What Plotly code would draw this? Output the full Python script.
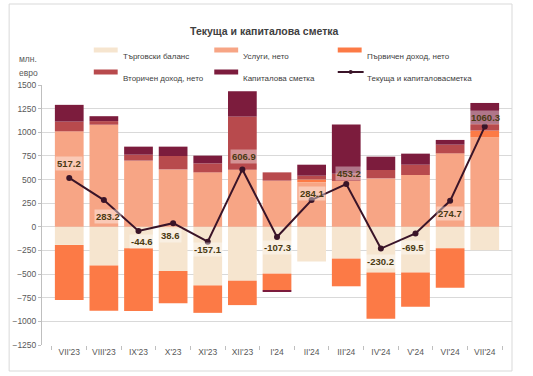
import plotly.graph_objects as go

categories = ["VII'23", "VIII'23", "IX'23", "X'23", "XI'23", "XII'23", "I'24",
              "II'24", "III'24", "IV'24", "V'24", "VI'24", "VII'24"]
trade = [-191, -410, -226, -466, -620, -570, -495, -368, -336, -484, -484, -226, -247]
services = [1010, 1080, 700, 607, 576, 604, 488, 470, 485, 512, 548, 777, 947]
primary = [-583, -477, -665, -343, -290, -258, -176, 31, -293, -488, -361, -418, 71]
secondary = [103, 38, 63, 142, 95, 562, 88, 40, 75, 89, 109, 92, 70]
capital = [177, 52, 85, 99, 82, 268, -12, 116, 521, 141, 117, 50, 222]
total = [517.2, 283.2, -44.6, 38.6, -157.1, 606.9, -107.3, 284.1, 453.2, -230.2, -69.5, 274.7, 1060.3]

names = ["Търговски баланс", "Услуги, нето", "Първичен доход, нето",
         "Вторичен доход, нето", "Капиталова сметка", "Текуща и капиталовасметка"]
colors = ["#F6E5CF", "#F7A585", "#FC7A46", "#B84A4D", "#7C1C3D", "#3A1428"]

# label offsets (px): (xshift, yshift)
lab_off = [(0, 14), (4, -16), (3, -10), (-3, -12), (0, -8), (2, 13), (0, -11),
           (0, 6), (3, 10), (0, -13), (-3, -14), (0, -13), (1, 9)]

W, H = 533, 376
L, R, T, B = 40, 512, 85, 345

def px(x):
    return (x - L) / (R - L)

def py(y):
    return (B - y) / (B - T)

fig = go.Figure()
for vals, nm, col in zip([trade, services, primary, secondary, capital], names[:5], colors[:5]):
    fig.add_trace(go.Bar(x=categories, y=vals, name=nm, marker=dict(color=col, line=dict(width=0)),
                         showlegend=False))
fig.add_trace(go.Scatter(x=categories, y=total, mode="lines+markers", name=names[5],
                         line=dict(color=colors[5], width=2),
                         marker=dict(color=colors[5], size=6), showlegend=False))

ann = []
for c, v, (dx, dy) in zip(categories, total, lab_off):
    ann.append(dict(x=c, y=v, xref="x", yref="y", text=f"{v:.1f}", showarrow=False,
                    xshift=dx, yshift=dy, bgcolor="rgba(255,255,255,0.4)", borderpad=1,
                    font=dict(family="Liberation Sans", size=9.5, color="#4A3A12", weight="bold")))

# title and unit
ann.append(dict(x=px(263), y=py(23), xref="paper", yref="paper", text="<b>Текуща и капиталова сметка</b>",
                showarrow=False, font=dict(family="Liberation Sans", size=10.5, color="#404040")))
for txt, yy in [("млн.", 52), ("евро", 66)]:
    ann.append(dict(x=px(15), y=py(yy), xref="paper", yref="paper", text=txt,
                    xanchor="left", showarrow=False,
                    font=dict(family="Liberation Sans", size=8.5, color="#595959")))

shapes = []
# frame
shapes.append(dict(type="rect", xref="paper", yref="paper", x0=px(7), x1=px(512), y0=py(371), y1=py(4),
                   line=dict(color="#D9D9D9", width=1), layer="below"))

leg = [(92, 50, 0), (213, 50, 1), (337, 50, 2), (92, 72, 3), (213, 72, 4), (337, 72, 5)]
for x0, y0, i in leg:
    if i < 5:
        shapes.append(dict(type="rect", xref="paper", yref="paper", x0=px(x0), x1=px(x0 + 24),
                           y0=py(y0 + 2.5), y1=py(y0 - 2.5), fillcolor=colors[i], line=dict(width=0)))
    else:
        shapes.append(dict(type="line", xref="paper", yref="paper", x0=px(x0), x1=px(x0 + 26),
                           y0=py(y0), y1=py(y0), line=dict(color=colors[5], width=2)))
        shapes.append(dict(type="circle", xref="paper", yref="paper", x0=px(x0 + 11), x1=px(x0 + 15),
                           y0=py(y0 + 2), y1=py(y0 - 2), fillcolor=colors[5], line=dict(width=0)))
    ann.append(dict(x=px(x0 + 27), y=py(y0), xref="paper", yref="paper", text=names[i],
                    xanchor="left", showarrow=False,
                    font=dict(family="Liberation Sans", size=8, color="#404040")))

fig.update_layout(
    width=W, height=H, barmode="relative", bargap=0.17,
    margin=dict(l=L, r=W - R, t=T, b=H - B),
    plot_bgcolor="white", paper_bgcolor="white",
    annotations=ann, shapes=shapes, showlegend=False,
    font=dict(family="Liberation Sans", color="#595959"),
)
fig.update_xaxes(showgrid=False, ticks="outside", tickson="boundaries", ticklen=4, tickcolor="#BFBFBF",
                 showline=False, tickfont=dict(size=8.5, color="#595959"))
fig.update_yaxes(range=[-1250, 1500], dtick=250, tick0=0, showgrid=True, gridcolor="#D9D9D9",
                 zeroline=False, showline=True, linecolor="#BFBFBF", ticks="outside", ticklen=3,
                 tickcolor="#BFBFBF", tickfont=dict(size=8.5, color="#595959"))

fig.write_html("out.html", config={"displayModeBar": False},
               post_script="document.body.style.margin='0px';document.body.style.overflow='hidden';")
